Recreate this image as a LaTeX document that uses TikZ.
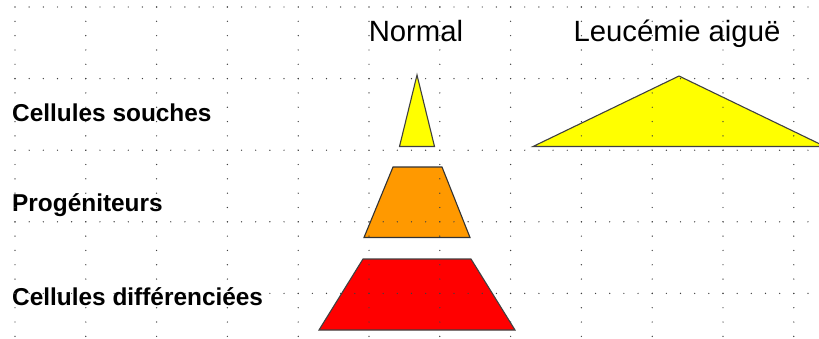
\documentclass[tikz,border=0pt]{standalone}
\usepackage{fontspec}
\setmainfont{Liberation Sans}
\usetikzlibrary{positioning}
\definecolor{cellyellow}{HTML}{FFFF00}
\definecolor{cellorange}{HTML}{FF9900}
\definecolor{cellred}{HTML}{FF0000}
\tikzset{
    coltitle/.style={
        anchor=base, inner sep=0pt, font=\fontsize{29.3}{34}\selectfont
    },
    rowlabel/.style={
        anchor=base west, inner sep=0pt, font=\fontsize{24.4}{29}\selectfont\bfseries
    },
    cell_yellow/.style={
        draw=black!75, line width=1.1pt, fill=cellyellow
    },
    cell_orange/.style={
        draw=black!80, line width=1.1pt, fill=cellorange
    },
    cell_red/.style={
        draw=black!75, line width=1.1pt, fill=cellred
    },
    griddot/.style={
        fill=black!75
    }
}

\begin{document}
\begin{tikzpicture}[x=1pt, y=-1pt]
    \useasboundingbox (0,0) rectangle (819,338);
    \clip (0,0) rectangle (819,338);

    \node[coltitle] (normal) at (416, 41.5) {Normal};
    \node[coltitle] (leucemie) at (677, 41.5) {Leucémie aiguë};

    \node[rowlabel] (souches) at (12, 121) {Cellules souches};
    \node[rowlabel] (progen) at (12, 211) {Progéniteurs};
    \node[rowlabel] (differ) at (12, 305) {Cellules différenciées};

    % pyramide normale
    \filldraw[cell_yellow] (399.5, 146.5) -- (417, 75) -- (434.5, 146.5) -- cycle;
    \filldraw[cell_orange] (364, 237.5) -- (393, 167) -- (442, 167) -- (470, 237.5) -- cycle;
    \filldraw[cell_red] (319, 330) -- (363, 259) -- (471, 259) -- (515, 330) -- cycle;

    % leucemie
    \filldraw[cell_yellow] (533, 146.5) -- (679, 76) -- (825, 146.5) -- cycle;

    % grille
    \foreach \j in {0,...,4} {
        \foreach \i in {0,...,56} {
            \fill[griddot] ({15+14.16*\i}, {7+71.6*\j}) circle (0.7pt);
        }
    }
    \foreach \k in {0,...,11} {
        \foreach \m in {0,...,23} {
            \fill[griddot] ({15+70.8*\k}, {7+14.32*\m}) circle (0.7pt);
        }
    }
\end{tikzpicture}
\end{document}
